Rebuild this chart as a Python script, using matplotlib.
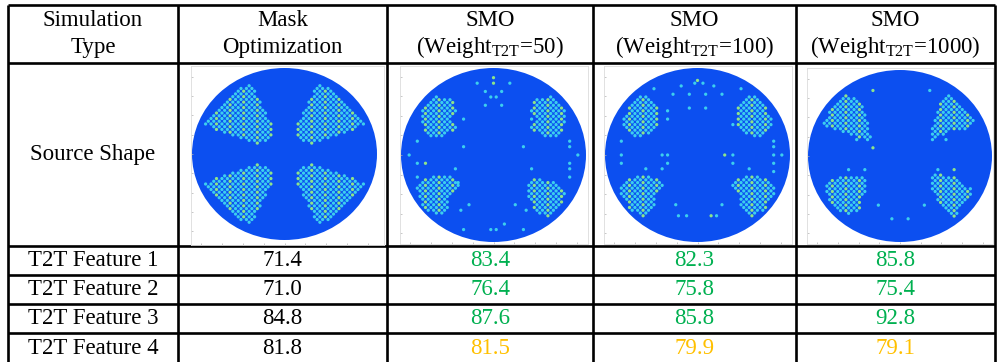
import numpy as np
import matplotlib
matplotlib.use("Agg")
import matplotlib.pyplot as plt
from matplotlib.path import Path
from matplotlib.patches import Ellipse

plt.rcParams['font.family'] = ['Liberation Serif', 'DejaVu Serif']
plt.rcParams['mathtext.fontset'] = 'custom'
plt.rcParams['mathtext.rm'] = 'Liberation Serif'
plt.rcParams['mathtext.it'] = 'Liberation Serif:italic'

# table text
head_top = ['Simulation', 'Mask', 'SMO', 'SMO', 'SMO']
head_bot = ['Type', 'Optimization', r'(Weight$_{\mathrm{T2T}}$=50)',
            r'(Weight$_{\mathrm{T2T}}$=100)', r'(Weight$_{\mathrm{T2T}}$=1000)']
row_labels = ['T2T Feature 1', 'T2T Feature 2', 'T2T Feature 3', 'T2T Feature 4']
mask_opt = [71.4, 71.0, 84.8, 81.8]
smo_50 = [83.4, 76.4, 87.6, 81.5]
smo_100 = [82.3, 75.8, 85.8, 79.9]
smo_1000 = [85.8, 75.4, 92.8, 79.1]

# source shapes: pole outlines (pupil coords, radius 1) + isolated pixels
mo_ul = [(-0.40, 0.83), (-0.33, 0.81), (-0.28, 0.63), (-0.20, 0.49), (-0.12, 0.30),
         (-0.12, 0.23), (-0.26, 0.11), (-0.48, 0.18), (-0.70, 0.26), (-0.87, 0.35),
         (-0.70, 0.52), (-0.54, 0.70)]

s50_ul = [(-0.63, 0.68), (-0.45, 0.64), (-0.40, 0.52), (-0.45, 0.42), (-0.38, 0.31),
          (-0.58, 0.20), (-0.72, 0.23), (-0.77, 0.38), (-0.77, 0.52), (-0.72, 0.62)]
s50_ll = [(-0.68, -0.23), (-0.49, -0.23), (-0.36, -0.33), (-0.47, -0.48), (-0.50, -0.62),
          (-0.58, -0.69), (-0.72, -0.63), (-0.81, -0.52), (-0.83, -0.37)]
s50_lr = [(0.43, -0.27), (0.67, -0.31), (0.79, -0.44), (0.72, -0.58), (0.61, -0.71),
          (0.52, -0.69), (0.43, -0.60), (0.36, -0.44), (0.38, -0.33)]
s50_pts = [(0, 0.885), (-0.17, 0.81), (0, 0.81), (0.17, 0.81), (-0.09, 0.72), (0.09, 0.72),
           (-0.04, 0.68), (0.04, 0.68), (-0.08, 0.56), (0.09, 0.56), (-0.31, 0.42),
           (-0.83, 0.17), (-0.31, 0.08), (-0.91, 0), (-0.82, -0.08), (-0.74, -0.08),
           (-0.40, -0.17), (-0.82, -0.25), (-0.38, -0.33), (-0.26, -0.56), (-0.35, -0.65),
           (-0.31, -0.85), (-0.04, -0.85), (0.04, -0.85), (0.13, -0.78), (0.31, -0.85),
           (0.31, 0.08), (0.83, 0.17), (0.83, 0.09), (0.92, 0), (0.83, -0.08), (0.83, -0.17),
           (0.40, -0.17), (0.83, -0.25), (0.25, -0.56), (0.34, -0.63), (0.40, 0.42)]

s100_ul = [(-0.64, 0.68), (-0.51, 0.66), (-0.43, 0.55), (-0.42, 0.39), (-0.48, 0.25),
           (-0.69, 0.20), (-0.82, 0.34), (-0.78, 0.47), (-0.73, 0.59)]
s100_ll = [(-0.68, -0.24), (-0.42, -0.26), (-0.35, -0.33), (-0.46, -0.47), (-0.46, -0.60),
           (-0.57, -0.72), (-0.71, -0.64), (-0.82, -0.49), (-0.85, -0.35)]
s100_pts = [(0, 0.87), (-0.04, 0.82), (0.05, 0.82), (-0.17, 0.79), (0.17, 0.79),
            (-0.26, 0.71), (-0.09, 0.71), (0.08, 0.71), (0.26, 0.71), (-0.48, 0.75),
            (0.48, 0.75), (-0.09, 0.55), (0.08, 0.55), (-0.31, 0.50), (-0.31, 0.41),
            (-0.83, 0.16), (-0.83, 0), (-0.83, -0.10), (-0.39, 0), (-0.31, 0), (-0.31, -0.10),
            (-0.57, -0.17), (-0.39, -0.17), (-0.25, -0.56), (-0.22, -0.70), (-0.13, -0.70),
            (0.14, -0.70), (0.22, -0.70), (0.26, -0.56), (0.38, 0.34), (0.30, 0), (0.38, 0),
            (0.38, -0.10), (0.83, 0.16), (0.83, 0.08), (0.83, 0), (0.91, 0), (0.83, -0.10),
            (0.83, -0.18), (0.57, -0.17)]

s1000_ul = [(-0.60, 0.71), (-0.47, 0.66), (-0.38, 0.53), (-0.34, 0.34), (-0.30, 0.16),
            (-0.56, 0.25), (-0.67, 0.30), (-0.84, 0.36), (-0.78, 0.49), (-0.69, 0.61)]
s1000_ur = [(0.53, 0.75), (0.65, 0.61), (0.81, 0.40), (0.75, 0.32), (0.56, 0.29),
            (0.31, 0.16), (0.36, 0.36), (0.40, 0.53), (0.47, 0.69)]
s1000_ll = [(-0.67, -0.24), (-0.38, -0.23), (-0.35, -0.34), (-0.42, -0.52), (-0.44, -0.65),
            (-0.60, -0.68), (-0.75, -0.56), (-0.84, -0.34)]
s1000_lr = [(0.35, -0.21), (0.58, -0.23), (0.67, -0.32), (0.80, -0.38), (0.76, -0.50),
            (0.65, -0.60), (0.64, -0.71), (0.53, -0.69), (0.42, -0.56), (0.35, -0.40)]
s1000_pts = [(-0.30, 0.77), (0.32, 0.77), (-0.48, 0.18), (-0.30, 0.09), (0.49, 0.18),
             (-0.25, -0.56), (0.27, -0.56), (-0.08, -0.73), (0.09, -0.73), (-0.56, -0.16),
             (-0.39, -0.16), (0.41, -0.16), (0.58, -0.16)]


def mx(poly):
    return [(-x, y) for x, y in poly]


def my(poly):
    return [(x, -y) for x, y in poly]


sources = [
    ([mo_ul, mx(mo_ul), my(mo_ul), mx(my(mo_ul))], []),
    ([s50_ul, mx(s50_ul), s50_ll, s50_lr], s50_pts),
    ([s100_ul, mx(s100_ul), s100_ll, mx(s100_ll)], s100_pts),
    ([s1000_ul, s1000_ur, s1000_ll, s1000_lr], s1000_pts),
]
# (frame box, disc box) in pixels: x0, y0, x1, y1
boxes = [
    ((191, 66, 384, 245), (192, 68, 377, 240)),
    ((400, 66, 588, 244), (401, 68, 586, 242)),
    ((604, 66, 792, 244), (605, 68, 790, 242)),
    ((807, 68, 993, 244), (808, 70, 992, 242)),
]

W, H = 997, 362
fig = plt.figure(figsize=(W / 100, H / 100), dpi=100)
ax = fig.add_axes([0, 0, 1, 1])
ax.set_xlim(0, W)
ax.set_ylim(H, 0)
ax.axis('off')

xs = [8, 178, 387, 593, 796, 995]
ys = [5, 63, 246, 275, 304, 333, 363]
lw = 1.9
ax.hlines(ys, xs[0], xs[-1], color='black', lw=lw)
ax.vlines(xs, ys[0], ys[-1], color='black', lw=lw)

fs = 16.5
cx = [(xs[i] + xs[i + 1]) / 2 for i in range(5)]
for i in range(5):
    ax.text(cx[i], 21, head_top[i], ha='center', va='center', fontsize=fs)
    ax.text(cx[i], 47, head_bot[i], ha='center', va='center', fontsize=fs)
ax.text(cx[0], (ys[1] + ys[2]) / 2, 'Source Shape', ha='center', va='center', fontsize=fs)

green = '#00B050'
gold = '#FFC000'
cols = [mask_opt, smo_50, smo_100, smo_1000]
for r in range(4):
    yc = (ys[r + 2] + ys[r + 3]) / 2
    ax.text(cx[0], yc, row_labels[r], ha='center', va='center', fontsize=fs)
    for c in range(4):
        v = cols[c][r]
        color = 'black' if c == 0 else (green if v > mask_opt[r] else gold)
        ax.text(cx[c + 1], yc, '{:.1f}'.format(v), ha='center', va='center',
                fontsize=fs, color=color)

# checkerboard pixel lattice of the source map
gx, gy = 2 / 68, 2 / 63
ii, jj = np.meshgrid(np.arange(-34, 35), np.arange(-32, 33))
keep = (ii + jj) % 2 == 0
ii, jj = ii[keep], jj[keep]
grid = np.column_stack([ii * gx, jj * gy])
gid = np.column_stack([ii, jj])

for (polys, pts), (fb, db) in zip(sources, boxes):
    fx0, fy0, fx1, fy1 = fb
    dx0, dy0, dx1, dy1 = db
    sx = (dx1 - dx0) / 2
    sy = (dy1 - dy0) / 2
    iax = fig.add_axes([fx0 / W, 1 - fy1 / H, (fx1 - fx0) / W, (fy1 - fy0) / H])
    iax.set_xlim(-1 - (dx0 - fx0) / sx, 1 + (fx1 - dx1) / sx)
    iax.set_ylim(-1 - (fy1 - dy1) / sy, 1 + (dy0 - fy0) / sy)
    for s in iax.spines.values():
        s.set_color('#dcdcdc')
        s.set_linewidth(0.6)
    iax.set_xticks(np.linspace(-0.9, 0.9, 9))
    iax.set_yticks(np.linspace(-0.9, 0.9, 9))
    iax.tick_params(direction='in', length=1.5, width=0.5, colors='#b0b0b0',
                    labelbottom=False, labelleft=False)
    iax.add_patch(Ellipse((0, 0), 2, 2, color='#0c4ff0', lw=0, zorder=1))

    inside = np.zeros(len(grid), dtype=bool)
    for p in polys:
        inside |= Path(p).contains_points(grid)
    dots = grid[inside]
    ids = gid[inside]
    if pts:
        p = np.array(pts)
        pi = np.round(p[:, 0] / gx).astype(int)
        pj = np.round(p[:, 1] / gy).astype(int)
        dots = np.vstack([dots, np.column_stack([pi * gx, pj * gy])])
        ids = np.vstack([ids, np.column_stack([pi, pj])])
    accent = (ids[:, 0] * 3 + ids[:, 1] * 5) % 5 == 0
    colors = np.where(accent, '#8ee48a', '#3ccfee')
    iax.scatter(dots[:, 0], dots[:, 1], s=5.5, c=colors, lw=0, zorder=2)

fig.savefig('out.png', dpi=100)
